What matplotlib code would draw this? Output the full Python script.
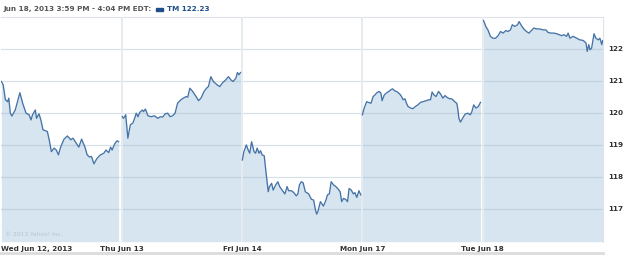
import matplotlib.pyplot as plt
from matplotlib.lines import Line2D
from matplotlib.patches import Rectangle

# minutes after the open, and price, for each trading day
wed_min = [0, 6, 13, 20, 24, 29, 34, 45, 60, 69, 80, 90, 96, 101, 110, 114, 122, 128, 135, 149,
           155, 162, 171, 178, 185, 192, 203, 214, 225, 232, 243, 251, 260, 271, 278, 286, 292, 300,
           310, 321, 332, 339, 348, 354, 359, 367, 375, 380]
wed_px = [120.98, 120.87, 120.41, 120.35, 120.46, 119.99, 119.90, 120.09, 120.63, 120.30, 119.99,
          119.94, 119.78, 119.94, 120.09, 119.83, 119.97, 119.78, 119.47, 119.42, 119.16, 118.79,
          118.90, 118.84, 118.69, 118.93, 119.18, 119.28, 119.16, 119.21, 119.05, 118.93, 119.18,
          118.93, 118.69, 118.62, 118.64, 118.41, 118.58, 118.69, 118.74, 118.84, 118.76, 118.93,
          118.84, 119.03, 119.13, 119.10]

thu_min = [2, 6, 13, 20, 28, 36, 42, 47, 53, 58, 67, 71, 77, 85, 96, 106, 117, 125, 133, 141, 149,
           157, 165, 173, 181, 192, 200, 209, 214, 221, 230, 241, 249, 257, 267, 275, 281, 289, 297,
           310, 318, 326, 337, 346, 354, 361, 370, 375, 380, 385]
thu_px = [119.88, 119.83, 119.94, 119.21, 119.63, 119.68, 119.83, 119.99, 119.88, 120.01, 120.09,
          120.04, 120.12, 119.91, 119.88, 119.91, 119.83, 119.88, 119.87, 119.97, 119.99, 119.88,
          119.91, 119.99, 120.30, 120.41, 120.46, 120.51, 120.49, 120.77, 120.67, 120.51, 120.38,
          120.46, 120.67, 120.77, 120.82, 121.13, 120.98, 120.87, 120.82, 120.93, 121.03, 121.13,
          121.03, 120.98, 121.08, 121.26, 121.19, 121.26]

fri_min = [1, 6, 14, 20, 25, 31, 39, 44, 49, 55, 60, 65, 72, 78, 85, 89, 96, 101, 109, 116, 122,
           130, 139, 146, 151, 160, 168, 176, 181, 186, 192, 198, 205, 216, 225, 232, 238, 242, 246,
           254, 264, 272, 277, 283, 289, 297, 304, 310, 318, 323, 329, 336, 342, 347, 354, 361, 366,
           372, 379, 385]
fri_px = [118.53, 118.79, 119.00, 118.84, 118.74, 119.10, 118.79, 118.74, 118.90, 118.74, 118.82,
          118.69, 118.66, 118.12, 117.54, 117.70, 117.80, 117.59, 117.75, 117.85, 117.70, 117.59,
          117.47, 117.70, 117.57, 117.57, 117.51, 117.41, 117.47, 117.75, 117.85, 117.82, 117.54,
          117.47, 117.30, 117.28, 116.97, 116.84, 116.92, 117.23, 117.09, 117.28, 117.44, 117.47,
          117.85, 117.75, 117.70, 117.64, 117.54, 117.23, 117.33, 117.30, 117.23, 117.64, 117.59,
          117.47, 117.51, 117.36, 117.57, 117.44]

mon_min = [0, 6, 14, 19, 28, 35, 41, 46, 54, 60, 64, 71, 78, 86, 92, 98, 105, 114, 122, 127, 132,
           138, 143, 148, 157, 164, 172, 180, 189, 197, 207, 215, 221, 226, 232, 239, 247, 254, 261,
           268, 275, 283, 290, 299, 306, 309, 313, 318, 326, 333, 342, 350, 355, 361, 368, 376, 383]
mon_px = [119.94, 120.15, 120.35, 120.33, 120.30, 120.51, 120.56, 120.62, 120.67, 120.62, 120.38,
          120.56, 120.62, 120.67, 120.72, 120.75, 120.69, 120.65, 120.58, 120.51, 120.41, 120.44,
          120.30, 120.20, 120.15, 120.13, 120.20, 120.25, 120.33, 120.35, 120.38, 120.41, 120.41,
          120.65, 120.56, 120.51, 120.67, 120.58, 120.46, 120.54, 120.48, 120.44, 120.44, 120.35,
          120.30, 120.15, 119.83, 119.71, 119.85, 119.96, 119.99, 119.94, 120.04, 120.25, 120.15,
          120.20, 120.33]

tue_min = [3, 10, 17, 25, 33, 42, 50, 58, 66, 75, 82, 90, 96, 104, 113, 118, 126, 133, 142, 150,
           158, 166, 174, 185, 196, 205, 212, 221, 231, 240, 248, 256, 263, 272, 277, 283, 293, 305,
           315, 326, 335, 339, 344, 348, 353, 361, 367, 375, 380, 386, 389, 390]
tue_px = [122.88, 122.70, 122.59, 122.39, 122.33, 122.33, 122.41, 122.54, 122.49, 122.57, 122.54,
          122.59, 122.75, 122.70, 122.75, 122.85, 122.72, 122.62, 122.54, 122.49, 122.57, 122.65,
          122.62, 122.62, 122.59, 122.59, 122.51, 122.49, 122.49, 122.47, 122.44, 122.41, 122.44,
          122.39, 122.49, 122.33, 122.39, 122.33, 122.28, 122.26, 122.18, 121.92, 122.13, 121.97,
          122.02, 122.47, 122.33, 122.28, 122.33, 122.13, 122.26, 122.23]

days = [(wed_min, wed_px), (thu_min, thu_px), (fri_min, fri_px), (mon_min, mon_px), (tue_min, tue_px)]
day_labels = ['Wed Jun 12, 2013', 'Thu Jun 13', 'Fri Jun 14', 'Mon Jun 17', 'Tue Jun 18']
price_ticks = [117, 118, 119, 120, 121, 122]
session_len = 390

line_col = '#4673a6'
fill_col = '#d6e5f0'
bottom = 115.98
fs = 5.2

fig = plt.figure(figsize=(6.25, 2.56), dpi=100)
ax = fig.add_axes([0.0022, 0.056, 0.9626, 0.876])

for i, (mins, px) in enumerate(days):
    x = [i + m / session_len for m in mins]
    ax.fill_between(x, px, bottom, color=fill_col, lw=0, zorder=1)
    ax.plot(x, px, color=line_col, lw=0.95, zorder=4)

# grid is semi-transparent so it reads darker over the fill, like the original
for p in price_ticks:
    ax.axhline(p, color='#9fb4c7', alpha=0.4, lw=0.9, zorder=2)
for i in range(1, 5):
    ax.axvline(i, color='#e6ebf0', lw=1.4, zorder=3)

ax.set_xlim(0, 5)
ax.set_ylim(bottom, 122.98)
ax.set_xticks(range(5))
ax.set_xticklabels(day_labels)
ax.set_yticks(price_ticks)
ax.set_yticklabels([str(p) for p in price_ticks])
ax.yaxis.tick_right()
ax.tick_params(length=0, labelsize=fs, labelcolor='#333333')
ax.tick_params(axis='x', pad=3)
ax.tick_params(axis='y', pad=4)
for lab in ax.get_xticklabels() + ax.get_yticklabels():
    lab.set_fontweight('bold')
ax.get_xticklabels()[0].set_horizontalalignment('left')

for side in ['left', 'bottom']:
    ax.spines[side].set_visible(False)
ax.spines['top'].set_color('#dde3e8')
ax.spines['right'].set_color('#dde3e8')

ax.text(0.006, 0.025, '\u00a9 2013 Yahoo! Inc.', transform=ax.transAxes, fontsize=4.3,
        color='#b5c4d0', zorder=5)

fig.text(3 / 625, 1 - 9 / 256, 'Jun 18, 2013 3:59 PM - 4:04 PM EDT:', fontsize=fs,
         fontweight='bold', color='#555555', va='center')
fig.patches.append(Rectangle((156 / 625, 1 - 11 / 256), 7 / 625, 3.5 / 256,
                             transform=fig.transFigure, color='#1f4f8a'))
fig.text(167 / 625, 1 - 9 / 256, 'TM 122.23', fontsize=fs, fontweight='bold',
         color='#1f4f8a', va='center')
fig.lines.append(Line2D([0, 603 / 625], [1 - 253 / 256] * 2, transform=fig.transFigure,
                        color='#dcdcdc', lw=2))

fig.savefig('out.png', dpi=100)
